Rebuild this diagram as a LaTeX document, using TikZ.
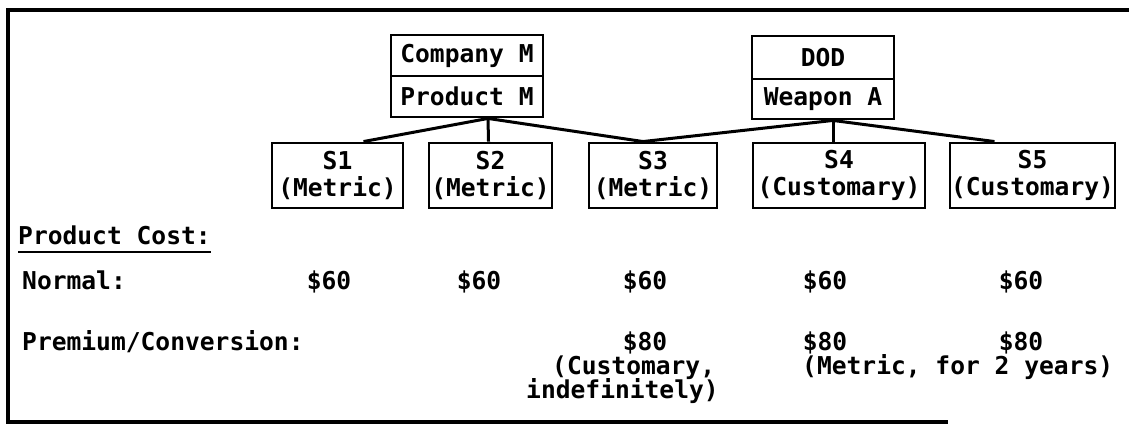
\documentclass[tikz,border=0pt]{standalone}
\usepackage{fontspec}
\setmainfont{DejaVu Sans Mono}[BoldFont={DejaVu Sans Mono Bold}]
\begin{document}
\begin{tikzpicture}[x=1pt,y=-1pt,
  every node/.style={font=\bfseries\fontsize{24.6}{27}\selectfont, inner sep=0pt},
  box/.style={draw, line width=2.9pt, align=center},
  conn/.style={line width=3pt},
  frame/.style={line width=3.2pt}]
\useasboundingbox (0,0) rectangle (1129,430);
\draw[frame] (1129,10) -- (8,10) -- (8,422) -- (948,422);
% top boxes
\node[box, minimum width=152pt, minimum height=41pt] (cm) at (467,55.5) {Company M};
\node[box, minimum width=152pt, minimum height=41pt] (pm) at (467,96.5) {Product M};
\node[box, minimum width=142pt, minimum height=43pt] (dod) at (823,57.5) {DOD};
\node[box, minimum width=142pt, minimum height=40pt] (wa) at (823,99) {Weapon A};
% supplier boxes
\node[box, minimum width=131pt, minimum height=65pt] (s1) at (337.5,175.5) {S1\\(Metric)};
\node[box, minimum width=123pt, minimum height=65pt] (s2) at (490.5,175.5) {S2\\(Metric)};
\node[box, minimum width=128pt, minimum height=65pt] (s3) at (653,175.5) {S3\\(Metric)};
\node[box, minimum width=172pt, minimum height=65pt] (s4) at (839,175.5) {S4\\(Customary)};
\node[box, minimum width=165pt, minimum height=65pt] (s5) at (1032.5,175.5) {S5\\(Customary)};
% connectors
\coordinate (jm) at ([xshift=21pt]pm.south);
\coordinate (jw) at ([xshift=10pt]wa.south);
\draw[conn] (jm) -- ([xshift=26pt]s1.north);
\draw[conn] (jm) -- ([xshift=-2pt]s2.north);
\draw[conn] (jm) -- ([xshift=-10pt]s3.north);
\draw[conn] (jw) -- ([xshift=-10pt]s3.north);
\draw[conn] (jw) -- ([xshift=-6pt]s4.north);
\draw[conn] (jw) -- ([xshift=-38pt]s5.north);
% cost table
\node[anchor=base west] (pc) at (18,245) {Product Cost:};
\draw[line width=2.2pt] ([yshift=-7pt]pc.base west) -- ([yshift=-7pt]pc.base east);
\node[anchor=base west] (nl) at (22,290) {Normal:};
\node[anchor=base west] (pl) at (22,350) {Premium/Conversion:};
\node[anchor=base] (n1) at (329,290) {\$60};
\node[anchor=base] (n2) at (479,290) {\$60};
\node[anchor=base] (n3) at (645,290) {\$60};
\node[anchor=base] (n4) at (825,290) {\$60};
\node[anchor=base] (n5) at (1021,290) {\$60};
\node[anchor=base] (p3) at (645,350) {\$80};
\node[anchor=base] (p4) at (825,350) {\$80};
\node[anchor=base] (p5) at (1021,350) {\$80};
\node[anchor=base west] (c3a) at (552,374) {(Customary,};
\node[anchor=base west] (c3b) at (526,398) {indefinitely)};
\node[anchor=base west] (c4) at (802,374) {(Metric, for 2 years)};
\end{tikzpicture}
\end{document}
